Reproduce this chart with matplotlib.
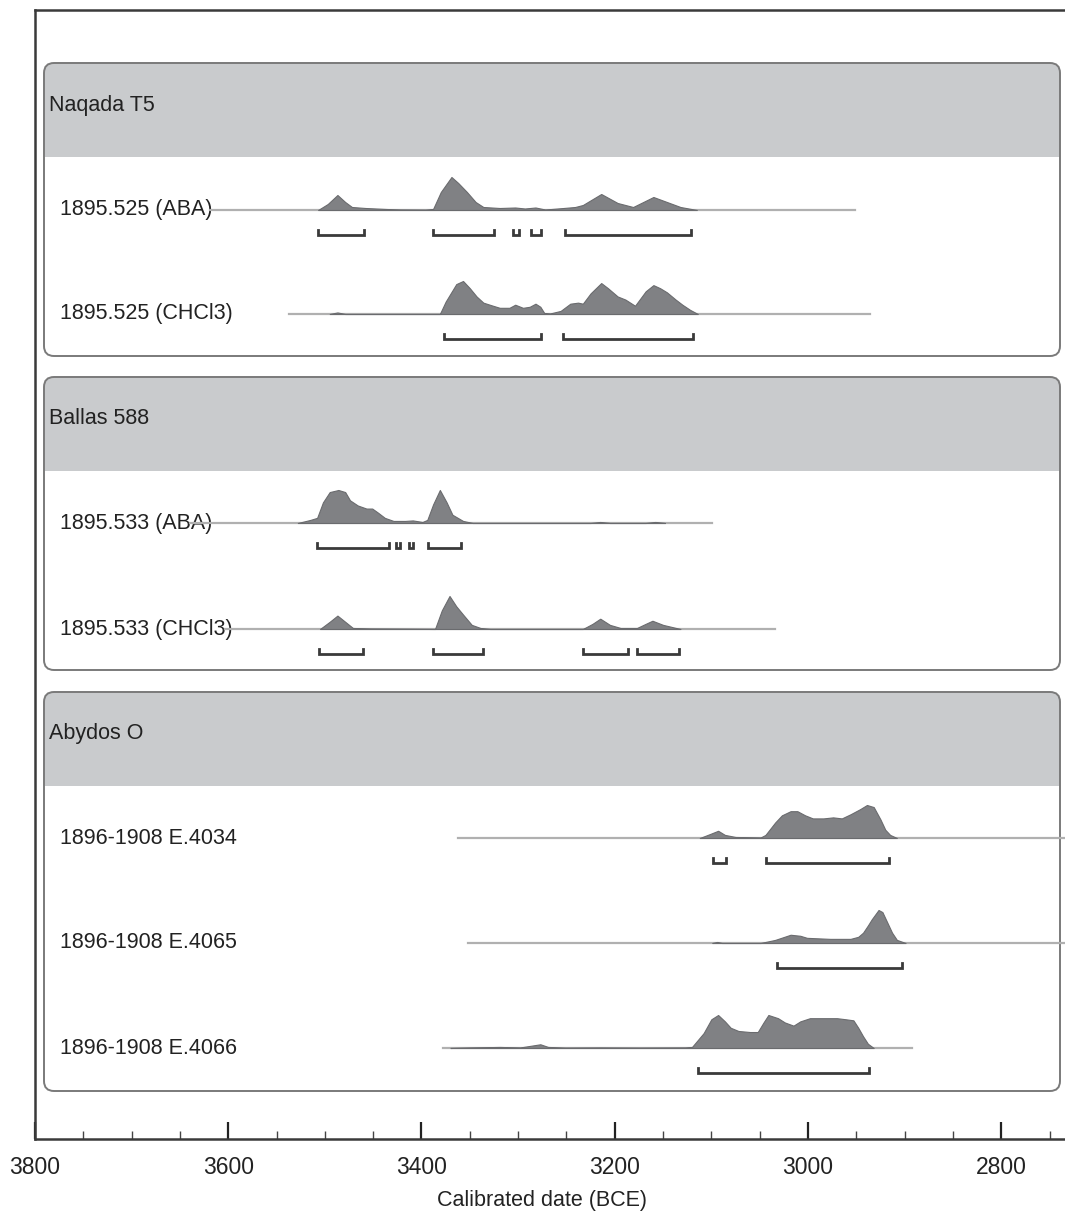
import matplotlib
matplotlib.use('Agg')
import matplotlib.pyplot as plt
import numpy as np
from matplotlib.patches import FancyBboxPatch, Rectangle
from matplotlib.ticker import MultipleLocator

plt.rcParams['font.family'] = ['Liberation Sans', 'DejaVu Sans']

# ---- values: calibrated date (BCE) vs relative probability ----
groups = ['Naqada T5', 'Ballas 588', 'Abydos O']
samples = ['1895.525 (ABA)', '1895.525 (CHCl3)',
           '1895.533 (ABA)', '1895.533 (CHCl3)',
           '1896-1908 E.4034', '1896-1908 E.4065', '1896-1908 E.4066']

naqada_aba_dates = [3507, 3497, 3487, 3479, 3472, 3458, 3436, 3422, 3396, 3388, 3380, 3369, 3362, 3353, 3344, 3336,
                    3319, 3303, 3293, 3282, 3272, 3253, 3241, 3233, 3214, 3197, 3181, 3160, 3146, 3132, 3115]
naqada_aba_prob = [0, 6, 15, 8, 3, 2, 1, 0.5, 0.3, 1, 18, 33, 27, 18, 8, 3,
                   2, 2.5, 1.5, 2.5, 0.5, 2, 3, 5, 16, 7, 3, 13, 8, 3, 0]

naqada_chcl3_dates = [3495, 3487, 3479, 3381, 3375, 3364, 3357, 3350, 3343, 3336, 3326, 3319, 3309, 3303, 3295,
                      3288, 3282, 3277, 3273, 3267, 3256, 3246, 3238, 3233, 3225, 3214, 3207, 3197, 3189, 3179,
                      3168, 3160, 3153, 3146, 3137, 3130, 3122, 3114]
naqada_chcl3_prob = [0, 1.5, 0, 0, 12, 29, 32, 25, 17, 11, 8, 6, 6, 9, 6,
                     7, 10, 7, 1, 0.5, 3, 10, 11, 10, 20, 30, 25, 17, 14, 8,
                     22, 28, 25, 21, 14, 9, 4, 0]

ballas_aba_dates = [3528, 3515, 3508, 3502, 3495, 3486, 3479, 3474, 3466, 3457, 3451, 3445, 3438, 3429, 3417,
                    3409, 3399, 3394, 3388, 3381, 3374, 3368, 3357, 3347, 3225, 3215, 3205, 3168, 3158, 3148]
ballas_aba_prob = [0, 3, 5, 20, 30, 32, 30, 22, 17, 14, 14, 10, 5, 2, 2,
                   2.5, 1, 3, 18, 32, 20, 8, 2, 0, 0, 1, 0, 0, 1, 0]

ballas_chcl3_dates = [3505, 3495, 3487, 3479, 3471, 3453, 3386, 3379, 3371, 3364, 3357, 3348, 3339, 3329,
                      3233, 3223, 3215, 3205, 3194, 3177, 3168, 3161, 3150, 3132]
ballas_chcl3_prob = [0, 7, 13, 7, 1, 0.5, 0, 18, 32, 22, 14, 4, 1, 0,
                     0, 5, 10, 4, 1, 1, 5, 8, 4, 0]

e4034_dates = [3112, 3101, 3093, 3086, 3075, 3049, 3044, 3034, 3027, 3018, 3011, 3003, 2995, 2984, 2974,
               2965, 2956, 2946, 2939, 2932, 2925, 2920, 2915, 2908]
e4034_prob = [0, 4, 7, 3, 1, 0.5, 3, 15, 22, 26, 26, 22, 19, 19, 20,
              19, 23, 28, 32, 30, 18, 8, 3, 0]

e4065_dates = [3099, 3094, 3089, 3049, 3034, 3018, 3008, 3001, 2977, 2956, 2948, 2943, 2938, 2934, 2927,
               2923, 2918, 2913, 2908, 2899]
e4065_prob = [0, 1, 0, 0, 3, 8, 7, 5, 4, 4, 6, 10, 17, 23, 32,
              30, 20, 10, 3, 0]

e4066_dates = [3370, 3350, 3319, 3298, 3277, 3269, 3251, 3215, 3174, 3127, 3120, 3108, 3100, 3093, 3086, 3080,
               3072, 3060, 3052, 3046, 3041, 3031, 3024, 3015, 3008, 2998, 2982, 2970, 2961, 2953,
               2948, 2943, 2938, 2932]
e4066_prob = [0, 0.5, 1, 0.5, 3.5, 1, 0.3, 0.5, 0.3, 0.5, 1, 14, 27, 31, 25, 19,
              16, 15, 15, 24, 31, 28, 24, 21, 25, 28, 28, 28, 27, 26,
              19, 11, 4, 0]

# extent of the thin baseline for each sample
line_start = [3619, 3537, 3640, 3603, 3362, 3352, 3378]
line_end = [2951, 2936, 3099, 3034, 2700, 2700, 2892]

# 95.4% ranges (brackets)
ranges = [
    [(3507, 3460), (3388, 3325), (3305, 3299), (3287, 3276), (3251, 3121)],
    [(3377, 3276), (3254, 3119)],
    [(3508, 3434), (3426, 3422), (3413, 3409), (3393, 3359)],
    [(3506, 3461), (3388, 3336), (3233, 3186), (3177, 3133)],
    [(3098, 3085), (3043, 2916)],
    [(3032, 2903)],
    [(3114, 2937)],
]

dates = [naqada_aba_dates, naqada_chcl3_dates, ballas_aba_dates, ballas_chcl3_dates,
         e4034_dates, e4065_dates, e4066_dates]
probs = [naqada_aba_prob, naqada_chcl3_prob, ballas_aba_prob, ballas_chcl3_prob,
         e4034_prob, e4065_prob, e4066_prob]

# ---- layout (pixel rows of the 1065x1216 figure) ----
W, H = 1065, 1216
row_y = [210, 314, 523, 629, 838, 943, 1048]
box_top = [63, 377, 692]
box_bot = [356, 670, 1091]
header_h = 94
peak_h = 33

fig = plt.figure(figsize=(W / 100, H / 100), dpi=100)

# background axes in pixel units for the group panels and labels
bg = fig.add_axes([0, 0, 1, 1], zorder=0)
bg.set_xlim(0, W)
bg.set_ylim(H, 0)
bg.axis('off')

for name, top, bot in zip(groups, box_top, box_bot):
    body = FancyBboxPatch((44, top), 1016, bot - top, boxstyle='round,pad=0,rounding_size=10',
                          facecolor='white', edgecolor='none')
    bg.add_patch(body)
    hdr = Rectangle((44, top), 1016, header_h, facecolor='#c9cbcd', edgecolor='none')
    bg.add_patch(hdr)
    hdr.set_clip_path(body)
    bg.add_patch(FancyBboxPatch((44, top), 1016, bot - top, boxstyle='round,pad=0,rounding_size=10',
                                facecolor='none', edgecolor='#7a7a7a', lw=1.4))
    bg.text(49, top + 42, name, fontsize=15.5, color='#222222', va='center', ha='left')

for lab, y in zip(samples, row_y):
    bg.text(60, y, lab, fontsize=15.5, color='#222222', va='center', ha='left')

# main axes in calendar years
ax = fig.add_axes([35 / W, (H - 1139) / H, 1030 / W, 1129 / H], zorder=1)
ax.patch.set_alpha(0)
ax.set_xlim(3800, 2734)
ax.set_ylim(1139, 10)

for i, y in enumerate(row_y):
    d = np.array(dates[i], dtype=float)
    p = np.array(probs[i], dtype=float)
    p = p / p.max() * peak_h
    ax.plot([line_start[i], line_end[i]], [y, y], color='#b0b0b0', lw=1.6, zorder=2)
    ax.fill_between(d, y, y - p, facecolor='#808184', edgecolor='#6a6b6e', lw=0.8, zorder=3)
    for a, b in ranges[i]:
        ax.plot([a, a, b, b], [y + 20, y + 25, y + 25, y + 20], color='#3a3a3a', lw=2,
                solid_joinstyle='miter', zorder=3)

ax.xaxis.set_major_locator(MultipleLocator(200))
ax.xaxis.set_minor_locator(MultipleLocator(50))
ax.set_yticks([])
ax.tick_params(axis='x', which='major', direction='in', length=12, width=1.6, colors='#222222',
               labelsize=16.5, pad=12)
ax.tick_params(axis='x', which='minor', direction='in', length=6, width=1.0, colors='#444444')
for s in ['left', 'top', 'bottom']:
    ax.spines[s].set_linewidth(1.8)
    ax.spines[s].set_color('#3a3a3a')
ax.spines['right'].set_visible(False)

ax.set_xlabel('Calibrated date (BCE)', fontsize=15.5, color='#222222')
ax.xaxis.set_label_coords((542 - 35) / 1030, -(1190 - 1139) / 1129)

fig.savefig('out.png', dpi=100)
